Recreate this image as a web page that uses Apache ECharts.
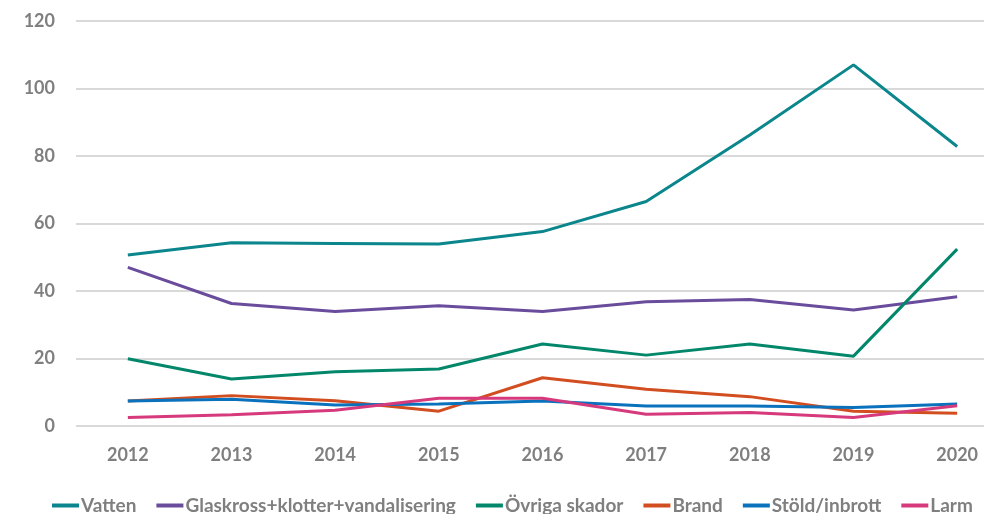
<!DOCTYPE html>
<html>
<head>
<meta charset="utf-8">
<script src="https://cdn.jsdelivr.net/npm/echarts@6/dist/echarts.min.js"></script>
<style>
  html, body { margin: 0; padding: 0; background: #fff; overflow: hidden; }
  #chart { width: 984px; height: 514px; }
</style>
</head>
<body>
<div id="chart"></div>
<script>
const years = ['2012', '2013', '2014', '2015', '2016', '2017', '2018', '2019', '2020'];

const vatten = [50.7, 54.3, 54.1, 53.9, 57.6, 66.5, 86.2, 107.0, 82.8];
const glaskross = [47.0, 36.3, 33.9, 35.6, 33.9, 36.8, 37.5, 34.4, 38.3];
const ovriga = [19.9, 13.9, 16.1, 16.9, 24.3, 21.0, 24.3, 20.7, 52.4];
const brand = [7.4, 9.0, 7.5, 4.4, 14.3, 10.9, 8.7, 4.4, 3.8];
const stold = [7.4, 7.9, 6.2, 6.5, 7.4, 5.9, 5.9, 5.5, 6.5];
const larm = [2.5, 3.3, 4.7, 8.2, 8.2, 3.5, 4.0, 2.5, 6.0];

const chart = echarts.init(document.getElementById('chart'));

const line = (name, data, color) => ({
  name, data, type: 'line', symbol: 'none',
  lineStyle: { width: 3, color },
  itemStyle: { color }
});

const labelFont = { fontFamily: 'Lato', fontSize: 18, fontWeight: 'bold', color: '#7f7f7f' };

chart.setOption({
  animation: false,
  grid: { left: 76, width: 933, top: 21, bottom: 88, outerBoundsMode: 'none', containLabel: false },
  legend: {
    bottom: -6, left: 47,
    itemWidth: 27, itemHeight: 4, itemGap: 20,
    icon: 'rect',
    textStyle: Object.assign({}, labelFont, { fontSize: 19, padding: [0, 0, 0, -3] }),
    data: ['Vatten', 'Glaskross+klotter+vandalisering', 'Övriga skador', 'Brand', 'Stöld/inbrott', 'Larm']
  },
  xAxis: {
    type: 'category', data: years, boundaryGap: true,
    axisLine: { show: false }, axisTick: { show: false },
    axisLabel: Object.assign({ margin: 20 }, labelFont)
  },
  yAxis: {
    type: 'value', min: 0, max: 120, interval: 20,
    axisLine: { show: false }, axisTick: { show: false },
    splitLine: { lineStyle: { color: '#d9d9d9', width: 2 } },
    axisLabel: Object.assign({ margin: 21 }, labelFont)
  },
  series: [
    line('Vatten', vatten, '#0a868c'),
    line('Glaskross+klotter+vandalisering', glaskross, '#6a4c9c'),
    line('Övriga skador', ovriga, '#02876a'),
    line('Brand', brand, '#d24e20'),
    line('Stöld/inbrott', stold, '#0a72bd'),
    line('Larm', larm, '#d63a7c')
  ]
});
</script>
</body>
</html>
